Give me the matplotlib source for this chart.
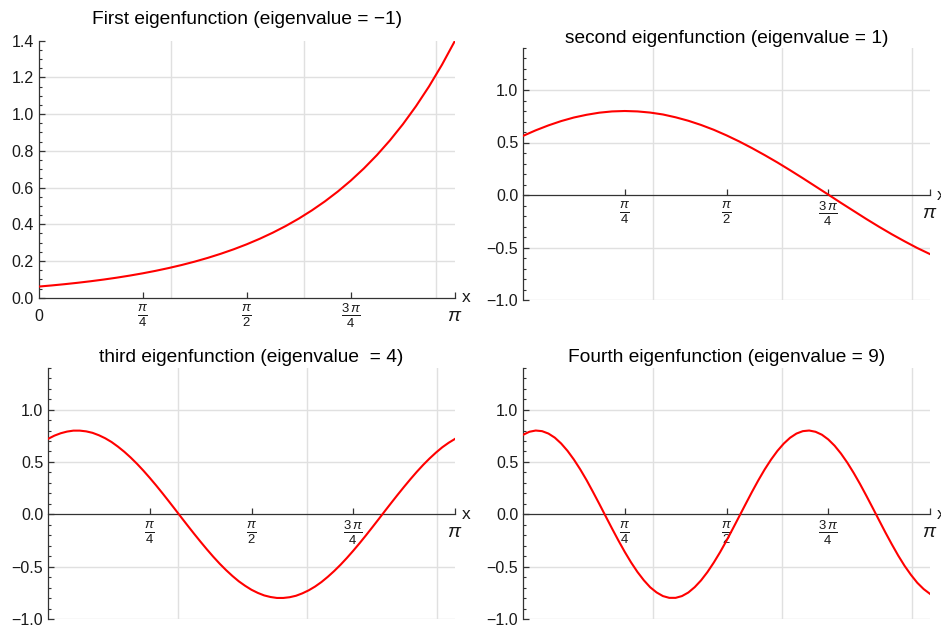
import numpy as np
import matplotlib
matplotlib.use("Agg")
import matplotlib.pyplot as plt
from matplotlib.ticker import MultipleLocator

plt.rcParams['font.family'] = ['Liberation Sans', 'DejaVu Sans']
plt.rcParams['mathtext.fontset'] = 'custom'
plt.rcParams['mathtext.rm'] = 'Liberation Sans'
plt.rcParams['mathtext.it'] = 'Liberation Sans:italic'
plt.rcParams['axes.unicode_minus'] = True

# ---- data ----
# plots 1 and 2 sampled at k*pi/32 (k = 0..32), plots 3 and 4 at k*pi/64 (k = 0..64)
x_coarse = np.linspace(0, np.pi, 33)
x_fine = np.linspace(0, np.pi, 65)

first_vals = [0.0605, 0.0667, 0.0736, 0.0812, 0.0896, 0.0988, 0.1090, 0.1203,
              0.1327, 0.1464, 0.1615, 0.1781, 0.1965, 0.2168, 0.2392, 0.2638,
              0.2910, 0.3211, 0.3542, 0.3907, 0.4310, 0.4755, 0.5245, 0.5786,
              0.6383, 0.7042, 0.7768, 0.8569, 0.9453, 1.0429, 1.1504, 1.2691,
              1.4000]

second_vals = [0.563, 0.616, 0.663, 0.704, 0.738, 0.764, 0.784, 0.796,
               0.800, 0.796, 0.785, 0.767, 0.740, 0.707, 0.667, 0.621,
               0.568, 0.510, 0.447, 0.380, 0.310, 0.236, 0.160, 0.082,
               0.004, -0.075, -0.152, -0.229, -0.303, -0.374, -0.441, -0.505,
               -0.563]

third_vals = [0.720, 0.751, 0.774, 0.790, 0.799, 0.799, 0.792, 0.778,
              0.755, 0.726, 0.690, 0.646, 0.597, 0.542, 0.482, 0.417,
              0.348, 0.276, 0.201, 0.124, 0.046, -0.033, -0.111, -0.188,
              -0.263, -0.336, -0.406, -0.472, -0.533, -0.589, -0.640, -0.683,
              -0.721, -0.751, -0.775, -0.790, -0.799, -0.799, -0.792, -0.778,
              -0.755, -0.726, -0.690, -0.647, -0.597, -0.542, -0.482, -0.417,
              -0.348, -0.276, -0.201, -0.124, -0.046, 0.033, 0.111, 0.188,
              0.263, 0.336, 0.406, 0.472, 0.533, 0.589, 0.640, 0.683,
              0.720]

fourth_vals = [0.759, 0.788, 0.800, 0.794, 0.771, 0.732, 0.676, 0.606,
               0.523, 0.429, 0.326, 0.214, 0.099, -0.019, -0.136, -0.250,
               -0.359, -0.460, -0.551, -0.630, -0.697, -0.746, -0.781, -0.798,
               -0.798, -0.781, -0.747, -0.696, -0.631, -0.552, -0.461, -0.361,
               -0.252, -0.137, -0.020, 0.097, 0.213, 0.324, 0.428, 0.522,
               0.605, 0.675, 0.731, 0.771, 0.794, 0.800, 0.788, 0.760,
               0.715, 0.655, 0.580, 0.493, 0.395, 0.289, 0.176, 0.060,
               -0.058, -0.175, -0.287, -0.394, -0.492, -0.578, -0.654, -0.714,
               -0.760]

titles = ["First eigenfunction (eigenvalue = \u22121)",
          "second eigenfunction (eigenvalue = 1)",
          "third eigenfunction (eigenvalue  = 4)",
          "Fourth eigenfunction (eigenvalue = 9)"]

x_tick_vals = [np.pi / 4, np.pi / 2, 3 * np.pi / 4, np.pi]
x_tick_labels = [r'$\frac{\pi}{4}$', r'$\frac{\pi}{2}$', r'$\frac{3\,\pi}{4}$', r'$\pi$']

y1_ticks = [0.0, 0.2, 0.4, 0.6, 0.8, 1.0, 1.2, 1.4]
y1_labels = ["0.0", "0.2", "0.4", "0.6", "0.8", "1.0", "1.2", "1.4"]
y_ticks = [-1.0, -0.5, 0.0, 0.5, 1.0]
y_labels = ["\u22121.0", "\u22120.5", "0.0", "0.5", "1.0"]

# ---- layout / style ----
W, H = 941, 628
fig = plt.figure(figsize=(W / 100, H / 100), dpi=100)

def px_rect(x0, x1, ytop, ybot):
    return [x0 / W, 1 - ybot / H, (x1 - x0) / W, (ybot - ytop) / H]

rects = [px_rect(38.5, 455, 40.7, 297.7),
         px_rect(523, 930, 48, 300),
         px_rect(48, 455, 367.7, 619),
         px_rect(523, 930, 367.7, 619)]
title_pos = [(246.7, 20), (726.5, 38.5), (251.5, 357), (726.5, 357)]
series = [(x_coarse, first_vals), (x_coarse, second_vals),
          (x_fine, third_vals), (x_fine, fourth_vals)]

AXC = '#333333'
GRIDC = '#e0e0e0'
TXT = '#1a1a1a'

for i in range(4):
    ax = fig.add_axes(rects[i])
    ax.set_xlim(0, np.pi)
    if i == 0:
        ax.set_ylim(0, 1.4)
        grid_y = [0.2, 0.4, 0.6, 0.8, 1.0, 1.2]
    else:
        ax.set_ylim(-1.0, 1.4)
        grid_y = [-1.0, -0.5, 0.5, 1.0]
    for gx in [1, 2, 3]:
        ax.axvline(gx, color=GRIDC, lw=1.0, zorder=0)
    for gy in grid_y:
        ax.axhline(gy, color=GRIDC, lw=1.0, zorder=0)

    xs, ys = series[i]
    ax.plot(xs, ys, color='red', lw=1.5, zorder=3, solid_joinstyle='round')

    for s in ['top', 'right']:
        ax.spines[s].set_visible(False)
    for s in ['left', 'bottom']:
        ax.spines[s].set_color(AXC)
        ax.spines[s].set_linewidth(0.9)
        ax.spines[s].set_zorder(2)
    if i > 0:
        ax.spines['bottom'].set_position(('data', 0))

    # x ticks
    if i == 0:
        ax.set_xticks([0.0] + x_tick_vals)
        ax.set_xticklabels(['0'] + x_tick_labels)
    else:
        ax.set_xticks(x_tick_vals)
        ax.set_xticklabels(x_tick_labels)
    ax.tick_params(axis='x', direction='in', length=4, width=0.9, color=AXC,
                   pad=13.3, labelcolor=TXT)
    for lab in ax.get_xticklabels():
        lab.set_va('center')
        t = lab.get_text()
        if t == r'$\pi$':
            lab.set_fontsize(14)
        elif t == '0':
            lab.set_fontsize(11.5)
        else:
            lab.set_fontsize(13.5)
    if i == 0:
        ax.get_xticklines()[0].set_visible(False)

    # y ticks
    if i == 0:
        ax.set_yticks(y1_ticks)
        ax.set_yticklabels(y1_labels)
        ax.yaxis.set_minor_locator(MultipleLocator(0.05))
    else:
        ax.set_yticks(y_ticks)
        ax.set_yticklabels(y_labels)
        ax.yaxis.set_minor_locator(MultipleLocator(0.1))
    ax.tick_params(axis='y', which='major', direction='in', length=4, width=0.9,
                   color=AXC, pad=3.5, labelsize=11.5, labelcolor=TXT)
    ax.tick_params(axis='y', which='minor', direction='in', length=2.5, width=0.8,
                   color=AXC)
    ax.tick_params(axis='x', which='minor', bottom=False)

    ax.patch.set_visible(False)

    # axis label "x" at the end of the horizontal axis
    ax.annotate('x', xy=(np.pi, 0), xycoords='data', xytext=(7, 0),
                textcoords='offset pixels', ha='left', va='center',
                fontsize=12.5, color=TXT, annotation_clip=False)

    tx, ty = title_pos[i]
    fig.text(tx / W, 1 - ty / H, titles[i], ha='center', va='center',
             fontsize=13.8, color='black')

fig.savefig('out.png', dpi=100)
